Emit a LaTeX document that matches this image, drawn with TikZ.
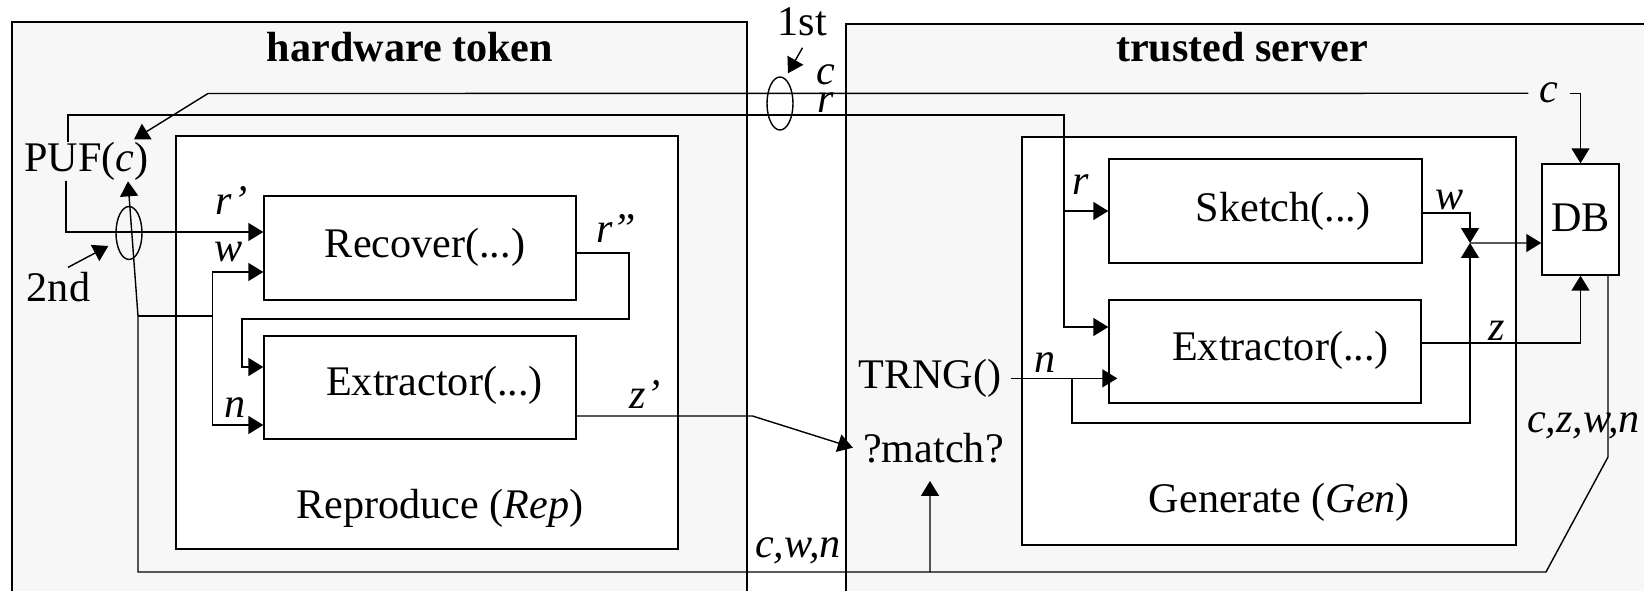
\documentclass[tikz,border=0pt]{standalone}
\usepackage{fontspec}
\setmainfont{Liberation Serif}
\usetikzlibrary{shapes.geometric,arrows.meta}
\definecolor{panelgray}{HTML}{F7F7F7}
\tikzset{
panel/.style={draw=black,fill=panelgray,line width=0.8pt},
procbox/.style={rectangle,draw=black,fill=white,line width=0.8pt,inner sep=0pt},
lbl/.style={inner sep=0pt,anchor=base,font=\fontsize{24}{28}\selectfont},
title/.style={lbl,font=\fontsize{24}{28}\selectfont\bfseries},
bundle/.style={ellipse,draw=black,line width=0.8pt,inner sep=0pt,
  minimum width=0.52cm,minimum height=1.06cm},
sig/.style={line width=0.8pt},
sigarr/.style={line width=0.8pt,-{Triangle[length=0.3cm,width=0.36cm]}}
}

\begin{document}
\begin{tikzpicture}[x=0.02cm,y=-0.02cm]
\useasboundingbox (0,0) rectangle (1644,591);
% the two sides
\path[panel] (12,22) rectangle (747,640);
\path[panel] (846,24) rectangle (1700,640);
\node[title] (hwt) at (410,62) {hardware token};
\node[title] (srv) at (1242,62) {trusted server};

% token side
\node[procbox,minimum width=10.04cm,minimum height=8.26cm] (rep) at (427,342.5) {};
\node[procbox,minimum width=6.24cm,minimum height=2.08cm] (recover) at (420,248) {};
\node[procbox,minimum width=6.24cm,minimum height=2.06cm] (extrep) at (420,387.5) {};
\node[lbl] (rectxt) at (425,258) {Recover(...)};
\node[lbl] (exreptxt) at (434.5,396) {Extractor(...)};
\node[lbl] (reptxt) at (440,518) {Reproduce (\textit{Rep})};
\node[lbl] (puf) at (86.5,172) {PUF(\textit{c})};
\node[lbl] (second) at (58.5,302) {2nd};
\node[bundle] (ell2) at (129,233) {};

% server side
\node[procbox,minimum width=9.88cm,minimum height=8.16cm] (gen) at (1269,341) {};
\node[procbox,minimum width=6.26cm,minimum height=2.08cm] (sketch) at (1265.5,211) {};
\node[procbox,minimum width=6.24cm,minimum height=2.06cm] (exgen) at (1265,351.5) {};
\node[procbox,minimum width=1.54cm,minimum height=2.22cm] (db) at (1580.5,219.5) {};
\node[lbl] (sktxt) at (1283,222) {Sketch(...)};
\node[lbl] (exgentxt) at (1280.5,360) {Extractor(...)};
\node[lbl] (gentxt) at (1279.5,512) {Generate (\textit{Gen})};
\node[lbl] (dbtxt) at (1580.5,232) {DB};
\node[lbl] (trng) at (930,388.5) {TRNG()};
\node[lbl] (match) at (933.5,462) {?match?};

% first enrolment
\node[lbl] (first) at (802.5,36) {1st};
\node[bundle] (ell1) at (780,103.5) {};

% signal names
\node[lbl] (lc1) at (825.5,85) {\textit{c}};
\node[lbl] (lr1) at (825.5,113) {\textit{r}};
\node[lbl,inner xsep=0.22cm] (cR) at (1549,103) {\textit{c}};
\node[lbl] (lr2) at (1081,195) {\textit{r}};
\node[lbl] (lw2) at (1450,210) {\textit{w}};
\node[lbl] (lz) at (1497,340) {\textit{z}};
\node[lbl] (ln2) at (1045,373) {\textit{n}};
\node[lbl] (lczwn) at (1583.5,432) {\textit{c,z,w,n}};
\node[lbl] (lcwn) at (798,557) {\textit{c,w,n}};
\node[lbl] (lz1) at (645,408) {\textit{z'}};
\node[lbl] (lr3) at (616,243) {\textit{r''}};
\node[lbl] (lr1p) at (232,215) {\textit{r'}};
\node[lbl] (lw1) at (228.5,262) {\textit{w}};
\node[lbl] (ln1) at (235.5,418) {\textit{n}};

\coordinate (split) at (138,316);
\coordinate (fork) at (212.5,316);
\coordinate (rdown) at (1064,115);
\coordinate (nsplit) at (1072,379);
\coordinate (wz) at (1470,243);
\coordinate (tap) at (930,572);

% c and r across
\draw[sigarr] (cR.west) -- (208,93.5) -- ([xshift=0.95cm,yshift=0.06cm]puf.north);
\draw[sigarr] ([xshift=-0.37cm]puf.north) |- (rdown) |- ([yshift=0.49cm]exgen.west);
\draw[sigarr] (rdown |- sketch.west) -- (sketch.west);
\draw[sigarr] (cR.east) -| (db.north);

% reproduce
\draw[sigarr] ([xshift=-0.41cm]puf.south) |- ([yshift=0.32cm]recover.west);
\draw[sigarr] ([xshift=0.55cm]db.south) -- (1608,457) -- (1546,572) -- (138,572)
  -- (split) -- ([xshift=0.83cm]puf.south);
\draw[sig] (split) -- (fork);
\draw[sigarr] (fork) |- ([yshift=-0.48cm]recover.west);
\draw[sigarr] (fork) |- ([yshift=-0.75cm]extrep.west);
\draw[sigarr] ([yshift=-0.1cm]recover.east) -| (629,319) -- (242,319)
  |- ([yshift=0.41cm]extrep.west);
\draw[sigarr] ([yshift=-0.57cm]extrep.east) -- (752.5,416) -- ([xshift=-0.2cm]match.west);
\draw[sigarr] (tap) -- ([xshift=-0.07cm,yshift=-0.36cm]match.south);

% generate
\draw[sigarr] ([xshift=0.18cm]trng.east) -- ([xshift=0.18cm]trng.east -| exgen.west);
\draw[sigarr] (nsplit) |- (1470,423) -- (wz);
\draw[sigarr] ([yshift=-0.04cm]sketch.east) -| (wz);
\draw[sigarr] (wz) -- ([yshift=-0.47cm]db.west);
\draw[sigarr] ([yshift=0.17cm]exgen.east) -| (db.south);

% which enrolment
\draw[sigarr] ([yshift=-0.22cm]first.south) -- ([shift={(0.16cm,0.06cm)}]ell1.north);
\draw[sigarr] ([shift={(0.19cm,0.1cm)}]second.north) -- ([shift={(-0.14cm,-0.26cm)}]ell2.west);
\end{tikzpicture}
\end{document}
